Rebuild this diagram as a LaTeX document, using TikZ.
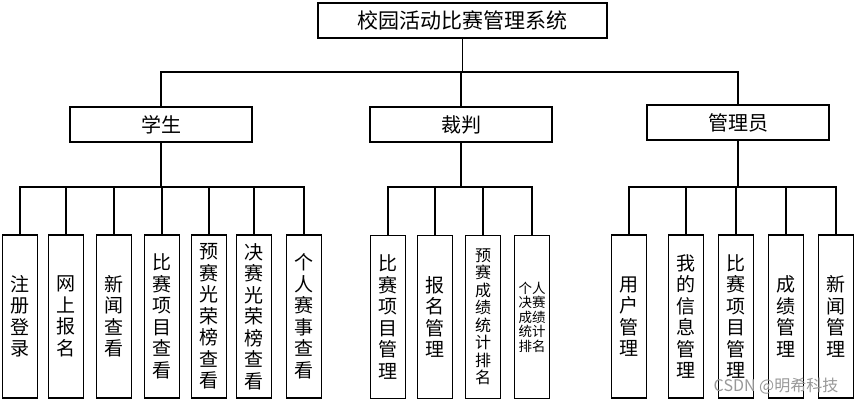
\documentclass[tikz,border=0pt]{standalone}
\usepackage{fontspec}
\setmainfont{Noto Sans CJK SC}
\begin{document}
\begin{tikzpicture}[x=1pt,y=-1pt,
  topbox/.style={draw, line width=1.3pt, inner sep=0pt, minimum width=289pt, minimum height=35pt, font=\fontsize{21}{23}\selectfont},
  rolebox/.style={draw, line width=1.3pt, inner sep=0pt, minimum width=182pt, minimum height=35pt, font=\fontsize{20}{22}\selectfont},
  leafbox/.style={draw, line width=1.6pt, inner sep=0pt, minimum width=35pt, minimum height=163pt, text width=35pt, align=center, font=\fontsize{19}{21.5}\selectfont},
  thin/.style={line width=1.1pt},
  thick/.style={line width=1.7pt}]
\useasboundingbox (0,0) rectangle (858,403);
\fill[white] (0,0) rectangle (858,403);

\node[topbox] (top) at (462.5,20.5) {校园活动比赛管理系统};
\node[rolebox] (stu) at (161,124.5) {学生};
\node[rolebox] (ref) at (461,124.5) {裁判};
\node[rolebox] (adm) at (738,122.5) {管理员};

\coordinate (h0) at (0,72);
\coordinate (h1) at (0,187);

% student leaves
\node[leafbox] (s1) at (20,316.5) {注\\册\\登\\录};
\node[leafbox] (s2) at (66,316.5) {网\\上\\报\\名};
\node[leafbox] (s3) at (114,316.5) {新\\闻\\查\\看};
\node[leafbox] (s4) at (162,316.5) {比\\赛\\项\\目\\查\\看};
\node[leafbox] (s5) at (209,316.5) {预\\赛\\光\\荣\\榜\\查\\看};
\node[leafbox] (s6) at (254,316.5) {决\\赛\\光\\荣\\榜\\查\\看};
\node[leafbox] (s7) at (304,316.5) {个\\人\\赛\\事\\查\\看};

% referee leaves
\node[leafbox] (r1) at (388,317) {比\\赛\\项\\目\\管\\理};
\node[leafbox] (r2) at (435,317) {报\\名\\管\\理};
\node[leafbox, font=\fontsize{16}{17.5}\selectfont] (r3) at (483,317) {预\\赛\\成\\绩\\统\\计\\排\\名};
\node[leafbox, font=\fontsize{13.5}{14.5}\selectfont] (r4) at (532,317) {个人\\决赛\\成绩\\统计\\排名};

% admin leaves
\node[leafbox] (a1) at (629,316.5) {用\\户\\管\\理};
\node[leafbox] (a2) at (686,316.5) {我\\的\\信\\息\\管\\理};
\node[leafbox] (a3) at (736,316.5) {比\\赛\\项\\目\\管\\理};
\node[leafbox] (a4) at (786,316.5) {成\\绩\\管\\理};
\node[leafbox] (a5) at (836,316.5) {新\\闻\\管\\理};

% top connectors
\draw[thin] (top.south) -- (top.south |- h0);
\draw[thin] (stu.north) -- (stu.north |- h0) -- (adm.north |- h0) -- (adm.north);
\draw[thin] (ref.north) -- (ref.north |- h0);

% student connectors
\draw[thick] (stu.south) -- (stu.south |- h1);
\draw[thick] (s1.north) -- (s1.north |- h1) -- (s7.north |- h1) -- (s7.north);
\foreach \n in {s2,s3,s4,s5,s6} \draw[thick] (\n.north) -- (\n.north |- h1);

% referee connectors
\draw[thick] (ref.south) -- (ref.south |- h1);
\draw[thick] (r1.north) -- (r1.north |- h1) -- (r4.north |- h1) -- (r4.north);
\foreach \n in {r2,r3} \draw[thick] (\n.north) -- (\n.north |- h1);

% admin connectors
\draw[thick] (adm.south) -- (adm.south |- h1);
\draw[thick] (a1.north) -- (a1.north |- h1) -- (a5.north |- h1) -- (a5.north);
\foreach \n in {a2,a3,a4} \draw[thick] (\n.north) -- (\n.north |- h1);

\node[text=black!40, font=\fontsize{16}{18}\selectfont, inner sep=0pt] (wm) at (776,386) {CSDN @明希科技};
\end{tikzpicture}
\end{document}
